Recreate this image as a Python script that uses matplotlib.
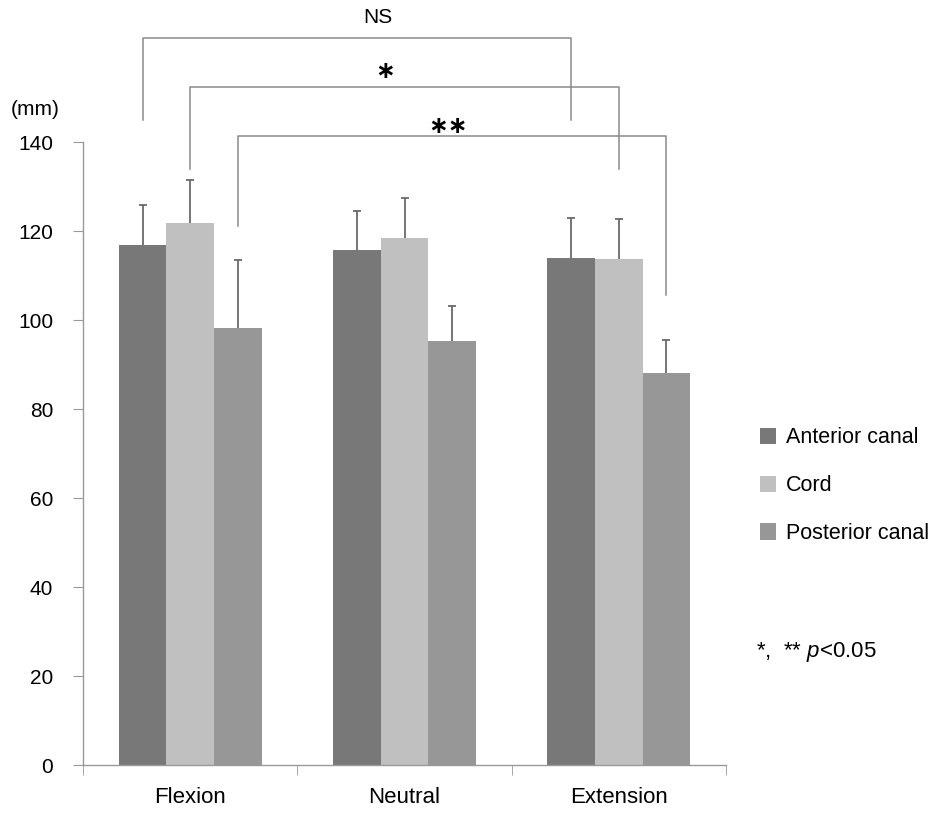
import numpy as np
import matplotlib.pyplot as plt

plt.rcParams['font.family'] = ['Liberation Sans', 'DejaVu Sans']
plt.rcParams['mathtext.fontset'] = 'custom'
plt.rcParams['mathtext.it'] = 'Liberation Sans:italic'
plt.rcParams['mathtext.rm'] = 'Liberation Sans'

# data
positions = ['Flexion', 'Neutral', 'Extension']
series = ['Anterior canal', 'Cord', 'Posterior canal']
anterior = [116.9, 115.7, 113.9]
cord = [121.8, 118.4, 113.7]
posterior = [98.3, 95.3, 88.1]
anterior_sd = [9.0, 8.8, 9.0]
cord_sd = [9.7, 9.0, 9.0]
posterior_sd = [15.1, 7.8, 7.4]
colors = ['#787878', '#c0c0c0', '#979797']

fig = plt.figure(figsize=(9.35, 8.13), dpi=100)
ax = fig.add_axes([0.0888, 0.059, 0.6877, 0.7663])

x = np.arange(len(positions))
w = 0.222
means = [anterior, cord, posterior]
sds = [anterior_sd, cord_sd, posterior_sd]
for i in range(3):
    xs = x + (i - 1) * w
    ax.bar(xs, means[i], width=w, color=colors[i], label=series[i], zorder=2)
    eb = ax.errorbar(xs, means[i], yerr=[np.zeros(3), sds[i]], fmt='none',
                     ecolor='#6a6a6a', elinewidth=1.3, capsize=3, capthick=1.3, zorder=3)
    eb[1][0].set_visible(False)  # only the upper cap

ax.set_xlim(-0.5, 2.5)
ax.set_ylim(0, 140)
ax.set_yticks(np.arange(0, 141, 20))
ax.set_xticks(x)
ax.set_xticklabels(positions, fontsize=16)
ax.set_xticks([-0.5, 0.5, 1.5, 2.5], minor=True)
ax.tick_params(axis='x', which='major', length=0, pad=16)
ax.tick_params(axis='x', which='minor', length=7, color='#999999', direction='out')
ax.tick_params(axis='y', length=7, color='#999999', labelsize=15, pad=14.5)
for s in ['top', 'right']:
    ax.spines[s].set_visible(False)
for s in ['left', 'bottom']:
    ax.spines[s].set_color('#999999')
    ax.spines[s].set_linewidth(1.0)

# significance brackets: (series index, bar height, left end, right end)
brackets = [(0, 163.4, 144.9, 144.9),
            (1, 152.4, 133.9, 133.9),
            (2, 141.3, 121.1, 105.6)]
for i, top, yl, yr in brackets:
    x0 = 0 + (i - 1) * w
    x1 = 2 + (i - 1) * w
    ax.plot([x0, x0, x1, x1], [yl, top, top, yr], color='#8a8a8a', lw=1.1,
            clip_on=False, zorder=4)

ax.text(0.874, 167.9, 'NS', ha='center', va='center', fontsize=15, clip_on=False)
ax.text(0.911, 156.6, '\u2217', ha='center', va='center_baseline', fontsize=17,
        family='DejaVu Sans', weight='bold', clip_on=False)
ax.text(1.201, 144.2, '\u2217\u2217', ha='center', va='center_baseline', fontsize=17,
        family='DejaVu Sans', weight='bold', clip_on=False)

fig.text(0.011, 0.865, '(mm)', fontsize=15, va='center')

ax.legend(loc='upper left', bbox_to_anchor=(0.804, 0.485), bbox_transform=fig.transFigure,
          frameon=False, fontsize=15.5, handlelength=0.75, handleheight=0.8,
          handletextpad=0.45, labelspacing=1.25, borderaxespad=0)

fig.text(0.809, 0.198, r'*,  ** $\it{p}$<0.05', fontsize=16, va='center')

fig.savefig('out.png', dpi=100)
